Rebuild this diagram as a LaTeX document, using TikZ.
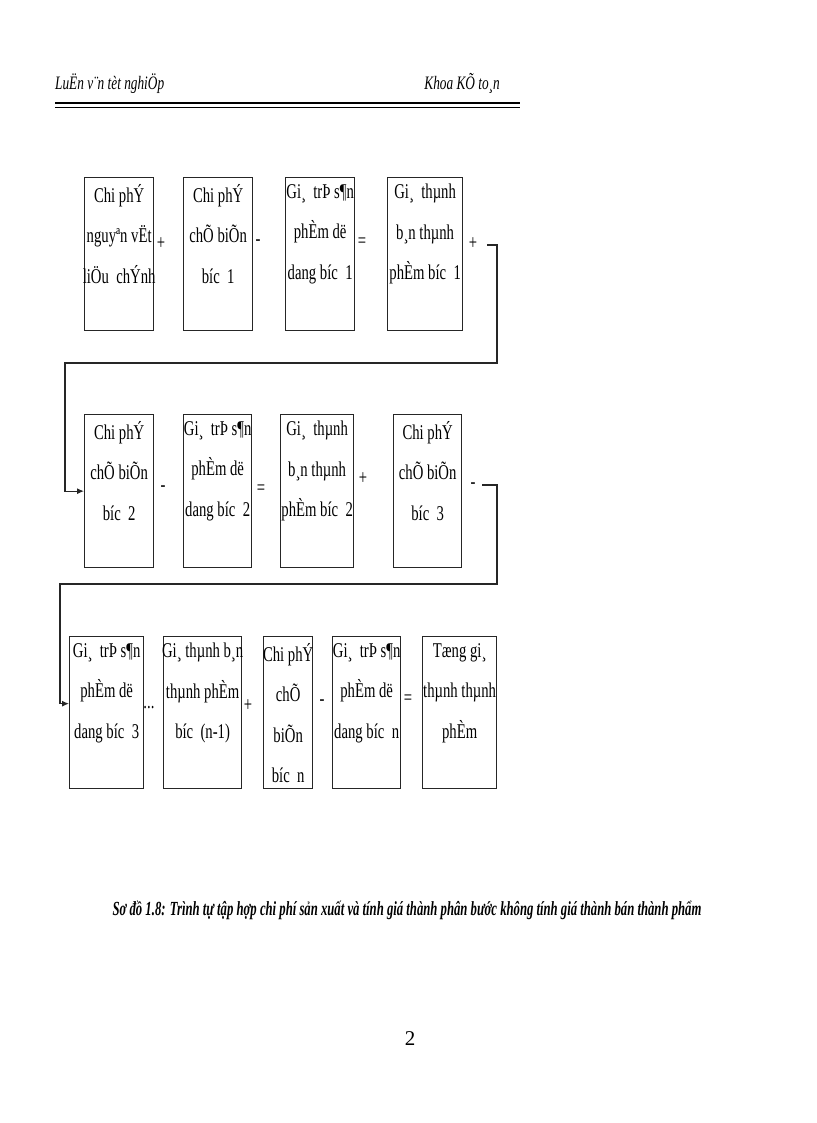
\documentclass[tikz,border=0pt]{standalone}
\usepackage{fontspec}
\setmainfont{Liberation Serif}
\newfontfamily\narrowfont[FakeStretch=0.7]{Liberation Serif}
\newfontfamily\capfont[FakeStretch=0.635]{Liberation Serif}
\usetikzlibrary{arrows.meta,positioning,calc}
\tikzset{
  cell/.style  = {draw=black!85, line width=1.3pt, rectangle, inner sep=0pt, anchor=north west},
  row1/.style  = {cell, minimum height=153pt},
  row3/.style  = {cell, minimum height=152pt},
  ctext/.style = {align=center, anchor=north, inner sep=0pt,
  font=\narrowfont\fontsize{21}{40.5}\selectfont,
  execute at begin node={\rule{0pt}{20pt}}},
  op/.style    = {inner sep=0pt, font=\narrowfont\fontsize{21}{24}\selectfont},
  hdr/.style   = {inner sep=0pt, font=\narrowfont\itshape\fontsize{19}{24}\selectfont},
  link/.style  = {draw=black!85, line width=1.1pt}
}

\begin{document}
\begin{tikzpicture}[x=1pt, y=-1pt, >={Latex[length=7pt,width=6pt]}]
\useasboundingbox (0,0) rectangle (816,1123);

% page header
\node[hdr, anchor=base west] (hleft) at (55,90) {LuËn v¨n tèt nghiÖp};
\node[hdr, anchor=base east] (hright) at (500,90) {Khoa KÕ to¸n};
\draw[line width=2pt] (55,103.5) -- (520,103.5);
\draw[line width=1pt] (55,107.5) -- (520,107.5);

% first row
\node[row1, minimum width=69pt] (c11) at (84,177) {};
\node[row1, minimum width=69pt] (c12) at (183,177) {};
\node[row1, minimum width=69pt] (c13) at (285,177) {};
\node[row1, minimum width=75pt] (c14) at (387,177) {};
\node[ctext] (t11) at ($(c11.north)+(0,7)$) {Chi phÝ\\nguyªn vËt\\liÖu\ \ chÝnh};
\node[ctext] (t12) at ($(c12.north)+(0,7)$) {Chi phÝ\\chÕ biÕn\\bíc\ \ 1};
\node[ctext] (t13) at ($(c13.north)+(0,7)$) {Gi¸\ \ trÞ s¶n\\phÈm dë\\dang bíc\ \ 1};
\node[ctext] (t14) at ($(c14.north)+(0,7)$) {Gi¸\ \ thµnh\\b¸n thµnh\\phÈm bíc\ \ 1};

% second row
\node[row1, minimum width=69pt] (c21) at (84,414) {};
\node[row1, minimum width=68pt] (c22) at (183,414) {};
\node[row1, minimum width=73pt] (c23) at (280,414) {};
\node[row1, minimum width=68pt] (c24) at (393,414) {};
\node[ctext] (t21) at ($(c21.north)+(0,7)$) {Chi phÝ\\chÕ biÕn\\bíc\ \ 2};
\node[ctext] (t22) at ($(c22.north)+(0,7)$) {Gi¸\ \ trÞ s¶n\\phÈm dë\\dang bíc\ \ 2};
\node[ctext] (t23) at ($(c23.north)+(0,7)$) {Gi¸\ \ thµnh\\b¸n thµnh\\phÈm bíc\ \ 2};
\node[ctext] (t24) at ($(c24.north)+(0,7)$) {Chi phÝ\\chÕ biÕn\\bíc\ \ 3};

% third row
\node[row3, minimum width=74pt] (c31) at (69,636) {};
\node[row3, minimum width=78pt] (c32) at (163,636) {};
\node[row3, minimum width=49pt] (c33) at (263,636) {};
\node[row3, minimum width=68pt] (c34) at (332,636) {};
\node[row3, minimum width=74pt] (c35) at (422,636) {};
\node[ctext] (t31) at ($(c31.north)+(0,7)$) {Gi¸\ \ trÞ s¶n\\phÈm dë\\dang bíc\ \ 3};
\node[ctext] (t32) at ($(c32.north)+(0,7)$) {Gi¸ thµnh b¸n\\thµnh phÈm\\bíc\ \ (n-1)};
\node[ctext] (t33) at ($(c33.north)+(0,7)$) {Chi phÝ\\chÕ\\biÕn\\bíc\ \ n};
\node[ctext] (t34) at ($(c34.north)+(0,7)$) {Gi¸\ \ trÞ s¶n\\phÈm dë\\dang bíc\ \ n};
\node[ctext] (t35) at ($(c35.north)+(0,7)$) {Tæng gi¸\\thµnh thµnh\\phÈm};

% signs between the boxes
\foreach \sym/\x/\y [count=\i] in {+/161/244, -/258/243, =/362/243, +/473/244,
  -/163/489, =/261/490, +/363/479, -/473/486,
  {...}/149/708, +/248/706, -/322/703, =/408/700}
  \node[op] (o\i) at (\x,\y) {\sym};

% links from one row to the next
\coordinate (s1) at (487,245);
\coordinate (k1) at (497,363);
\draw[link,->] (s1) -| (k1) -| ($(c21.west)+(-19,0)$) -- (c21.west);
\coordinate (s2) at (482,485);
\coordinate (k2) at (497,584);
\draw[link,->] (s2) -| (k2) -| ($(c31.west)+(-9,-9)$) -- ($(c31.west)+(0,-9)$);

% caption and page number
\node[anchor=base, inner sep=0pt, font=\capfont\bfseries\itshape\fontsize{20}{24}\selectfont] (cap) at (407,915)
  {Sơ đồ 1.8: Trình tự tập hợp chi phí sản xuất và tính giá thành phân bước không tính giá thành bán thành phẩm};
\node[anchor=base, inner sep=0pt, font=\fontsize{21}{24}\selectfont] (pg) at (410,1045) {2};
\end{tikzpicture}
\end{document}
